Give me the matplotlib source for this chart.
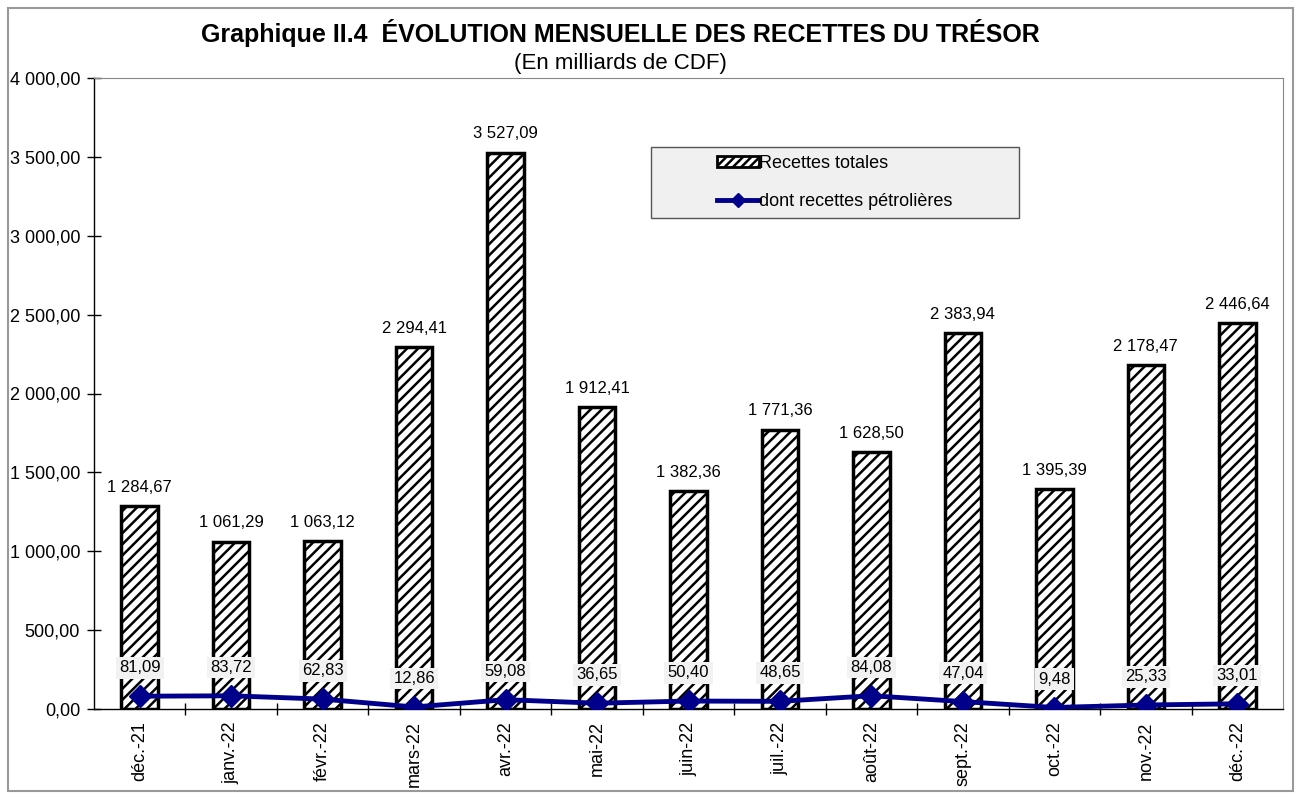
import matplotlib
import matplotlib.pyplot as plt
from matplotlib.patches import Rectangle, Patch
from matplotlib.lines import Line2D

plt.rcParams["font.family"] = ["Liberation Sans", "DejaVu Sans"]
plt.rcParams["hatch.linewidth"] = 1.8

# données (milliards de CDF)
mois = ["déc.-21", "janv.-22", "févr.-22", "mars-22", "avr.-22", "mai-22", "juin-22",
        "juil.-22", "août-22", "sept.-22", "oct.-22", "nov.-22", "déc.-22"]
recettes_totales = [1284.67, 1061.29, 1063.12, 2294.41, 3527.09, 1912.41, 1382.36,
                    1771.36, 1628.50, 2383.94, 1395.39, 2178.47, 2446.64]
recettes_petrolieres = [81.09, 83.72, 62.83, 12.86, 59.08, 36.65, 50.40,
                        48.65, 84.08, 47.04, 9.48, 25.33, 33.01]


def fr(v):
    s = f"{v:,.2f}"
    return s.replace(",", " ").replace(".", ",")


def main():
    fig = plt.figure(figsize=(12.98, 7.99), dpi=100)
    # cadre extérieur
    fig.patches.append(Rectangle((0.006, 0.01), 0.99, 0.98, transform=fig.transFigure,
                                 fill=False, edgecolor="#999999", linewidth=1.5))
    ax = fig.add_axes([94 / 1298, 90 / 799, 1189 / 1298, 631 / 799])

    x = list(range(len(mois)))
    ax.bar(x, recettes_totales, width=0.4, color="white", edgecolor="black",
           linewidth=2.5, hatch="///", zorder=2)
    ax.plot(x, recettes_petrolieres, color="#00008B", linewidth=3.5, marker="D",
            markersize=11, zorder=4)

    for i, v in enumerate(recettes_totales):
        ax.annotate(fr(v), (i, v), xytext=(0, 8), textcoords="offset points",
                    ha="center", va="bottom", fontsize=12)
    for i, v in enumerate(recettes_petrolieres):
        ax.annotate(fr(v), (i, v), xytext=(0, 15), textcoords="offset points",
                    ha="center", va="bottom", fontsize=12, zorder=5,
                    bbox=dict(boxstyle="square,pad=0.2", facecolor="#f2f2f2",
                              edgecolor="none"))

    ax.set_xlim(-0.5, len(mois) - 0.5)
    ax.set_ylim(0, 4000)
    ax.set_yticks(range(0, 4001, 500))
    ax.set_yticklabels([fr(t) for t in range(0, 4001, 500)], fontsize=13)
    ax.set_xticks(x)
    ax.set_xticklabels(mois, rotation=90, fontsize=13)
    ax.tick_params(axis="x", length=0, pad=9)
    ax.set_xticks([i + 0.5 for i in x[:-1]], minor=True)
    ax.tick_params(axis="x", which="minor", length=9, width=1, direction="inout")
    ax.tick_params(axis="y", length=10, width=1, direction="inout", pad=5)

    for s in ["left", "bottom"]:
        ax.spines[s].set_linewidth(1)
    ax.spines["top"].set_color("#888888")
    ax.spines["right"].set_color("#888888")

    fig.text(620 / 1298, 1 - 33 / 799, "Graphique II.4  ÉVOLUTION MENSUELLE DES RECETTES DU TRÉSOR",
             ha="center", va="center", fontsize=18, fontweight="bold")
    fig.text(620 / 1298, 1 - 63 / 799, "(En milliards de CDF)", ha="center", va="center", fontsize=16)

    # cadre de la légende
    ax.add_patch(Rectangle((557 / 1189, 491 / 631), 368 / 1189, 71 / 631, transform=ax.transAxes,
                           facecolor="#f0f0f0", edgecolor="#555555", linewidth=1, zorder=6))
    handles = [Patch(facecolor="white", edgecolor="black", hatch="////", linewidth=2),
               Line2D([], [], color="#00008B", linewidth=3.5, marker="D", markersize=7)]
    leg = ax.legend(handles, ["Recettes totales", "dont recettes pétrolières"],
                    loc="upper left", bbox_to_anchor=(623 / 1189, 1 - 77 / 631), fontsize=13,
                    frameon=False, handlelength=2.3, handleheight=0.6, handletextpad=0.05,
                    borderpad=0, labelspacing=1.15, borderaxespad=0)
    leg.set_zorder(7)

    plt.savefig("out.png")


if __name__ == "__main__":
    main()
